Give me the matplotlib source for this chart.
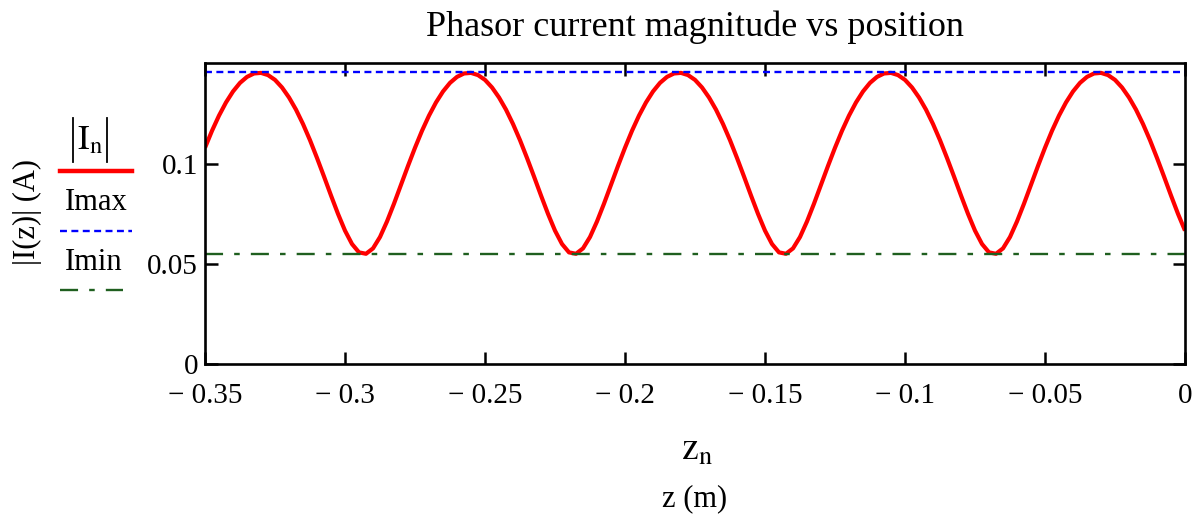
import matplotlib
matplotlib.use("Agg")
import matplotlib.pyplot as plt
import numpy as np
from matplotlib.lines import Line2D

W, H = 1204, 521

I_MAG = [
    0.1083, 0.1168, 0.1244, 0.1310, 0.1365, 0.1408, 0.1438, 0.1455, 0.1458, 0.1447,
    0.1423, 0.1385, 0.1335, 0.1274, 0.1202, 0.1121, 0.1032, 0.0939, 0.0844, 0.0752,
    0.0668, 0.0601, 0.0559, 0.0552, 0.0579, 0.0636, 0.0714, 0.0803, 0.0898, 0.0992,
    0.1083, 0.1168, 0.1244, 0.1310, 0.1365, 0.1408, 0.1438, 0.1455, 0.1458, 0.1447,
    0.1423, 0.1385, 0.1335, 0.1274, 0.1202, 0.1121, 0.1032, 0.0939, 0.0844, 0.0752,
    0.0668, 0.0601, 0.0559, 0.0552, 0.0579, 0.0636, 0.0714, 0.0803, 0.0898, 0.0992,
    0.1083, 0.1168, 0.1244, 0.1310, 0.1365, 0.1408, 0.1438, 0.1455, 0.1458, 0.1447,
    0.1423, 0.1385, 0.1335, 0.1274, 0.1202, 0.1121, 0.1032, 0.0939, 0.0844, 0.0752,
    0.0668, 0.0601, 0.0559, 0.0552, 0.0579, 0.0636, 0.0714, 0.0803, 0.0898, 0.0992,
    0.1083, 0.1168, 0.1244, 0.1310, 0.1365, 0.1408, 0.1438, 0.1455, 0.1458, 0.1447,
    0.1423, 0.1385, 0.1335, 0.1274, 0.1202, 0.1121, 0.1032, 0.0939, 0.0844, 0.0752,
    0.0668, 0.0601, 0.0559, 0.0552, 0.0579, 0.0636, 0.0714, 0.0803, 0.0898, 0.0992,
    0.1083, 0.1168, 0.1244, 0.1310, 0.1365, 0.1408, 0.1438, 0.1455, 0.1458, 0.1447,
    0.1423, 0.1385, 0.1335, 0.1274, 0.1202, 0.1121, 0.1032, 0.0939, 0.0844, 0.0752,
    0.0668,
]
Z_START, Z_STOP = -0.35, 0.0
I_MAX = 0.1461
I_MIN = 0.0552

X_TICKS = [-0.35, -0.3, -0.25, -0.2, -0.15, -0.1, -0.05, 0]
X_TICK_LABELS = ["\u2212 0.35", "\u2212 0.3", "\u2212 0.25", "\u2212 0.2",
                 "\u2212 0.15", "\u2212 0.1", "\u2212 0.05", "0"]
Y_TICKS = [0, 0.05, 0.1]
Y_TICK_LABELS = ["0", "0.05", "0.1"]

plt.rcParams["font.family"] = ["Liberation Serif", "DejaVu Serif"]
plt.rcParams["mathtext.fontset"] = "stix"
plt.rcParams["lines.scale_dashes"] = False

RED = "#ff0000"
BLUE = "#0000ff"
GREEN = "#1f5f1f"


def fx(px):
    return px / W


def fy(py):
    return 1 - py / H


z = np.linspace(Z_START, Z_STOP, len(I_MAG))

fig = plt.figure(figsize=(W / 100, H / 100), dpi=100)
ax = fig.add_axes([fx(205), fy(364), fx(1185) - fx(205), fy(62.5) - fy(364)])

ax.plot(z, I_MAG, color=RED, lw=3.0, solid_capstyle="butt")
ax.axhline(I_MAX, color=BLUE, lw=1.7, dashes=(5, 3.2))
ax.axhline(I_MIN, color=GREEN, lw=1.7, dashes=(13, 8, 4, 8))

ax.set_xlim(Z_START, Z_STOP)
ax.set_ylim(0, 0.151)
ax.set_xticks(X_TICKS)
ax.set_xticklabels(X_TICK_LABELS)
ax.set_yticks(Y_TICKS)
ax.set_yticklabels(Y_TICK_LABELS)
ax.tick_params(direction="in", length=9, width=1.8, labelsize=21,
               top=True, right=True, color="black")
ax.tick_params(axis="x", pad=14)
ax.tick_params(axis="y", pad=5)
for spine in ax.spines.values():
    spine.set_linewidth(1.9)

fig.text(fx(695), fy(27), "Phasor current magnitude vs position",
         ha="center", va="center", fontsize=26)
fig.text(fx(697), fy(450), r"$\mathrm{z_n}$", ha="center", va="center", fontsize=27)
fig.text(fx(695), fy(499), "z (m)", ha="center", va="center", fontsize=22)
fig.text(fx(27), fy(212), "|I(z)| (A)", ha="center", va="center",
         rotation=90, fontsize=22)

# legend drawn by hand on the left, Mathcad style
fig.text(fx(90), fy(141), r"$\mathrm{I_n}$", ha="center", va="center", fontsize=25)
for bar_x in (73, 107):
    fig.add_artist(Line2D([fx(bar_x), fx(bar_x)], [fy(118), fy(162)],
                          color="black", lw=1.3))
fig.add_artist(Line2D([fx(60), fx(132)], [fy(171), fy(171)], color=RED, lw=3.2))
fig.text(fx(96), fy(202), "Imax", ha="center", va="center", fontsize=22)
fig.add_artist(Line2D([fx(60), fx(132)], [fy(231), fy(231)], color=BLUE, lw=1.7,
                      dashes=(5, 3.2)))
fig.text(fx(94), fy(262), "Imin", ha="center", va="center", fontsize=22)
fig.add_artist(Line2D([fx(60), fx(123)], [fy(290), fy(290)], color=GREEN, lw=1.7,
                      dashes=(13, 8, 4, 8)))

fig.savefig("out.png", dpi=100)
